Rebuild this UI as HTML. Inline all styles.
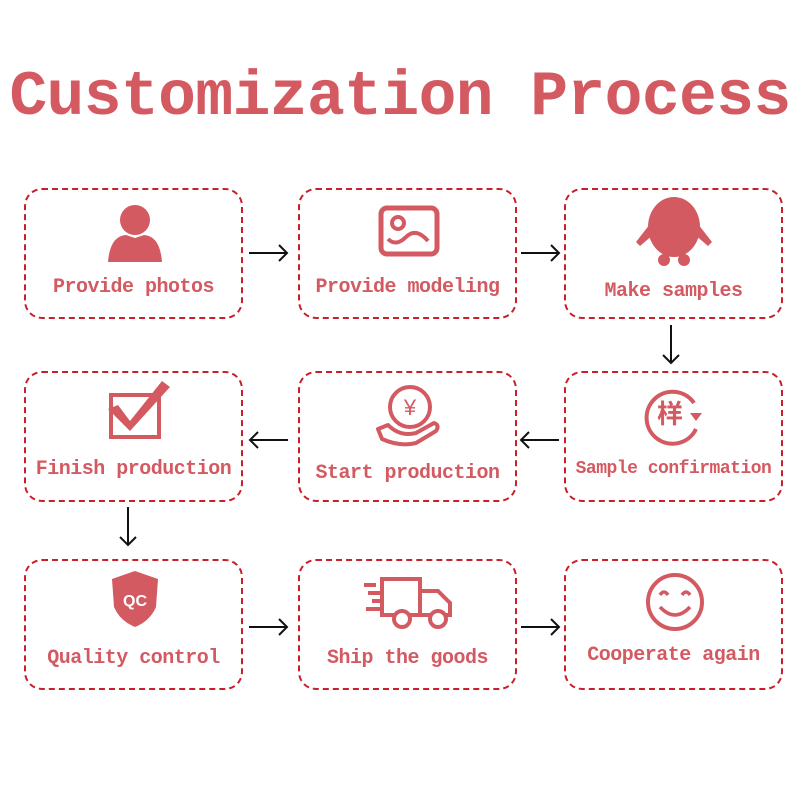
<!DOCTYPE html>
<html><head><meta charset="utf-8"><style>
body{margin:0;background:#fff;width:800px;height:800px;position:relative;overflow:hidden;font-family:"Liberation Mono",monospace}
.t{position:absolute;left:0;top:62px;width:800px;text-align:center;font-size:63px;font-weight:bold;color:#d45a62;white-space:nowrap;letter-spacing:-0.6px}
.b{position:absolute;width:219px;height:131px;border:2px dashed #c8202a;border-radius:18px;box-sizing:border-box}
.l{position:absolute;left:0;width:100%;text-align:center;font-size:20px;font-weight:bold;color:#d45a62;white-space:nowrap;letter-spacing:-0.5px}
svg{position:absolute}
</style></head><body>
<div class="t">Customization Process</div>

<div class="b" style="left:24px;top:188px"><div class="l" style="top:86px">Provide photos</div>
<svg style="left:80px;top:12px" width="58" height="60"><circle cx="29" cy="18" r="15" fill="#d45a62"/><path d="M2 60 Q4 34 20 33 L29 36 L38 33 Q54 34 56 60Z" fill="#d45a62"/></svg></div>
<div class="b" style="left:298px;top:188px"><div class="l" style="top:86px">Provide modeling</div>
<svg style="left:78px;top:15px" width="62" height="52"><rect x="3" y="3" width="56" height="46" rx="6" fill="none" stroke="#d45a62" stroke-width="5"/><circle cx="20" cy="18" r="6" fill="none" stroke="#d45a62" stroke-width="4"/><path d="M10 34 Q18 42 28 32 Q38 22 50 36" fill="none" stroke="#d45a62" stroke-width="4"/></svg></div>
<div class="b" style="left:564px;top:188px"><div class="l" style="top:90px">Make samples</div>
<svg style="left:66px;top:4px" width="84" height="76"><ellipse cx="42" cy="33" rx="26" ry="30" fill="#d45a62"/><path d="M18 30 L4 48 L8 52 L22 40Z M66 30 L80 48 L76 52 L62 40Z" fill="#d45a62"/><circle cx="32" cy="66" r="6" fill="#d45a62"/><circle cx="52" cy="66" r="6" fill="#d45a62"/></svg></div>

<div class="b" style="left:24px;top:371px"><div class="l" style="top:85px">Finish production</div>
<svg style="left:80px;top:6px" width="66" height="62"><rect x="5" y="16" width="48" height="42" fill="none" stroke="#d45a62" stroke-width="4"/><path d="M2 30 L12 26 L24 42 L56 2 L64 8 L24 52Z" fill="#d45a62"/></svg></div>
<div class="b" style="left:298px;top:371px"><div class="l" style="top:89px">Start production</div>
<svg style="left:76px;top:8px" width="66" height="66"><circle cx="34" cy="26" r="20" fill="none" stroke="#d45a62" stroke-width="4"/><text x="34" y="34" text-anchor="middle" font-size="22" fill="#d45a62" font-family="Liberation Sans,sans-serif">¥</text><path d="M2 48 L12 44 Q24 56 40 52 L58 42 Q64 44 60 50 L40 62 Q24 66 6 58Z" fill="none" stroke="#d45a62" stroke-width="4" stroke-linejoin="round"/></svg></div>
<div class="b" style="left:564px;top:371px"><div class="l" style="top:86px;font-size:18px">Sample confirmation</div>
<svg style="left:74px;top:8px" width="68" height="66"><path d="M54 22 A26 26 0 1 0 56 48" fill="none" stroke="#d45a62" stroke-width="4"/><path d="M50 32 L62 32 L56 40Z" fill="#d45a62"/><text x="30" y="42" text-anchor="middle" font-size="26" font-weight="bold" fill="#d45a62" font-family="Noto Sans CJK SC,sans-serif">样</text></svg></div>

<div class="b" style="left:24px;top:559px"><div class="l" style="top:86px">Quality control</div>
<svg style="left:84px;top:8px" width="50" height="60"><path d="M25 2 L48 10 L46 38 Q40 52 25 58 Q10 52 4 38 L2 10Z" fill="#d45a62"/><text x="25" y="37" text-anchor="middle" font-size="16" font-weight="bold" fill="#fff" font-family="Liberation Sans,sans-serif">QC</text></svg></div>
<div class="b" style="left:298px;top:559px"><div class="l" style="top:86px">Ship the goods</div>
<svg style="left:62px;top:14px" width="94" height="56"><g stroke="#d45a62" stroke-width="4" fill="none"><path d="M2 10 H14 M6 18 H18 M10 26 H20 M4 34 H18"/><path d="M20 4 H58 V40 H20Z"/><path d="M58 16 H76 L88 28 V40 H58"/></g><circle cx="40" cy="44" r="8" fill="#fff" stroke="#d45a62" stroke-width="4"/><circle cx="76" cy="44" r="8" fill="#fff" stroke="#d45a62" stroke-width="4"/></svg></div>
<div class="b" style="left:564px;top:559px"><div class="l" style="top:83px">Cooperate again</div>
<svg style="left:78px;top:10px" width="62" height="62"><circle cx="31" cy="31" r="27" fill="none" stroke="#d45a62" stroke-width="4"/><path d="M16 24 Q20 18 24 24 M38 24 Q42 18 46 24 M16 36 Q31 52 46 36" fill="none" stroke="#d45a62" stroke-width="3.5"/></svg></div>

<svg style="left:0;top:0" width="800" height="800"><g stroke="#111" stroke-width="2" fill="none">
<path d="M249 253 H287 M279 245 L287 253 L279 261"/>
<path d="M521 253 H559 M551 245 L559 253 L551 261"/>
<path d="M671 325 V363 M663 355 L671 363 L679 355"/>
<path d="M559 440 H521 M529 432 L521 440 L529 448"/>
<path d="M288 440 H250 M258 432 L250 440 L258 448"/>
<path d="M128 507 V545 M120 537 L128 545 L136 537"/>
<path d="M249 627 H287 M279 619 L287 627 L279 635"/>
<path d="M521 627 H559 M551 619 L559 627 L551 635"/>
</g></svg>
</body></html>
